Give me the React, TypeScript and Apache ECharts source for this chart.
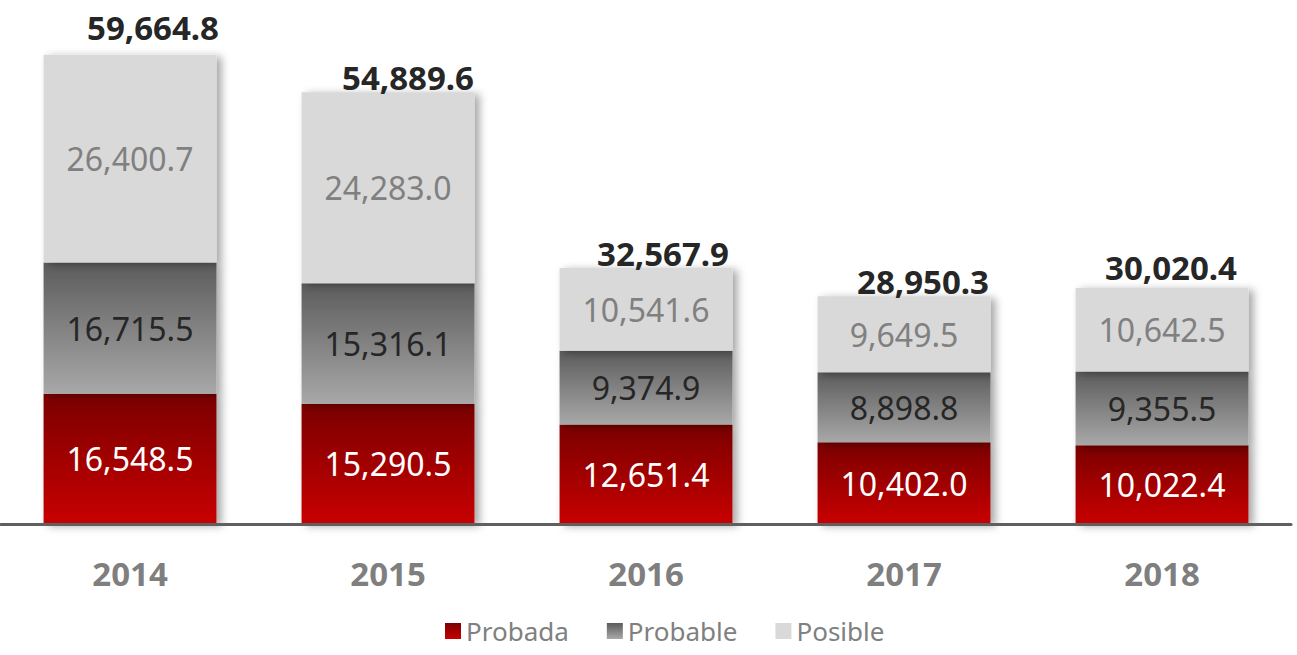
import React, { useEffect, useRef } from "react";
import * as echarts from "echarts";

const categories = ["2014", "2015", "2016", "2017", "2018"];
const probada = [16548.5, 15290.5, 12651.4, 10402.0, 10022.4];
const probable = [16715.5, 15316.1, 9374.9, 8898.8, 9355.5];
const posible = [26400.7, 24283.0, 10541.6, 9649.5, 10642.5];
const totals = [59664.8, 54889.6, 32567.9, 28950.3, 30020.4];
const totalOffsets = [[23, -8], [20, 4], [17, 5], [19, 4], [9, -1]];

const fmt = (v: number) =>
  v.toLocaleString("en-US", { minimumFractionDigits: 1, maximumFractionDigits: 1 });

const FONT = "'Noto Sans', sans-serif";

export default function App() {
  const ref = useRef<HTMLDivElement>(null);
  useEffect(() => {
    const chart = echarts.init(ref.current!, undefined, { renderer: "svg" });
    const shadow = {
      shadowBlur: 8,
      shadowOffsetX: 5,
      shadowOffsetY: 2,
      shadowColor: "rgba(0,0,0,0.35)",
    };
    const segLabel = (color: string) => ({
      show: true,
      position: "inside",
      color,
      fontFamily: FONT,
      fontSize: 32,
      formatter: (p: any) => fmt(p.value),
    });
    chart.setOption({
      animation: false,
      backgroundColor: "#ffffff",
      grid: { left: 1, right: 6, top: 5, bottom: 131, containLabel: false },
      legend: {
        data: ["Probada", "Probable", "Posible"],
        bottom: 6,
        left: 440,
        icon: "rect",
        itemWidth: 16,
        itemHeight: 16,
        itemGap: 38,
        textStyle: { color: "#808080", fontFamily: FONT, fontSize: 26 },
      },
      xAxis: {
        type: "category",
        data: categories,
        axisTick: { show: false },
        axisLine: {
          show: true,
          onZero: false,
          lineStyle: { color: "#5f5f5f", width: 3 },
        },
        z: 5,
        axisLabel: {
          margin: 33,
          color: "#7f7f7f",
          fontFamily: FONT,
          fontWeight: "bold",
          fontSize: 33,
        },
      },
      yAxis: {
        type: "value",
        min: 0,
        max: 66000,
        axisLine: { show: false },
        axisTick: { show: false },
        axisLabel: { show: false },
        splitLine: { show: false },
      },
      series: [
        {
          name: "Probada",
          type: "bar",
          stack: "t",
          barWidth: "67%",
          data: probada,
          itemStyle: {
            color: new echarts.graphic.LinearGradient(0, 0, 0, 1, [
              { offset: 0, color: "#7a0000" },
              { offset: 1, color: "#c80000" },
            ]),
            ...shadow,
          },
          label: segLabel("#ffffff"),
        },
        {
          name: "Probable",
          type: "bar",
          stack: "t",
          data: probable,
          itemStyle: {
            color: new echarts.graphic.LinearGradient(0, 0, 0, 1, [
              { offset: 0, color: "#5c5c5c" },
              { offset: 1, color: "#a8a8a8" },
            ]),
            ...shadow,
          },
          label: segLabel("#262626"),
        },
        {
          name: "Posible",
          type: "bar",
          stack: "t",
          data: posible,
          itemStyle: { color: "#d9d9d9", ...shadow },
          label: segLabel("#808080"),
        },
        {
          name: "Total",
          type: "line",
          data: totals.map((v, i) => ({
            value: v,
            label: { offset: totalOffsets[i] },
          })),
          symbol: "circle",
          symbolSize: 1,
          showSymbol: true,
          itemStyle: { color: "rgba(0,0,0,0)" },
          lineStyle: { width: 0, color: "rgba(0,0,0,0)" },
          silent: true,
          label: {
            show: true,
            position: "top",
            distance: 2,
            color: "#262626",
            fontFamily: FONT,
            fontWeight: "bold",
            fontSize: 33,
            formatter: (p: any) => fmt(p.value),
          },
          z: 10,
        },
      ],
    });
    return () => chart.dispose();
  }, []);
  return (
    <div
      ref={ref}
      style={{ position: "fixed", left: 0, top: 0, width: 1297, height: 655 }}
    />
  );
}
